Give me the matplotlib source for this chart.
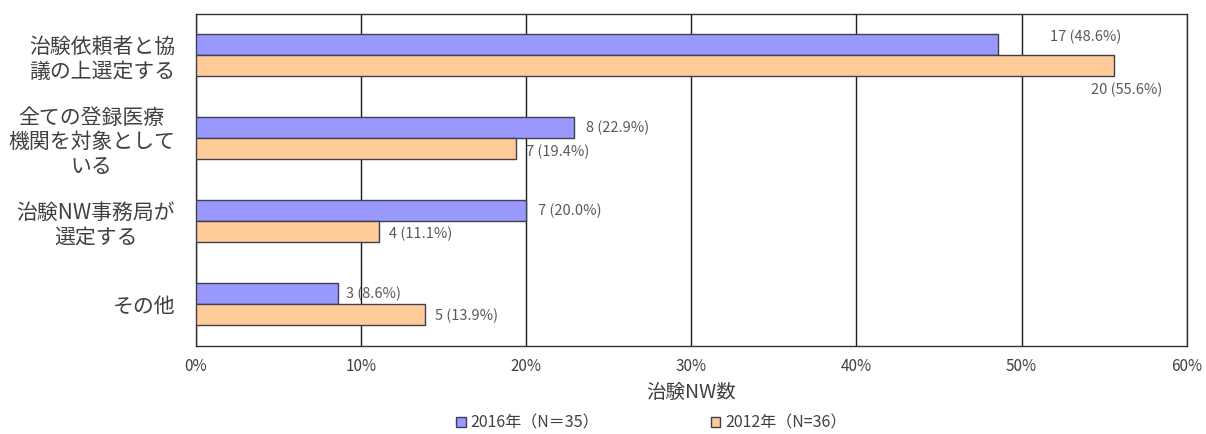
import matplotlib
matplotlib.use("Agg")
import matplotlib.pyplot as plt
import numpy as np
from matplotlib.patches import Patch

plt.rcParams['font.family'] = ['Noto Sans CJK JP', 'DejaVu Sans']

categories = ["治験依頼者と協\n議の上選定する",
              "全ての登録医療\n機関を対象として\nいる",
              "治験NW事務局が\n選定する",
              "その他"]
series_names = ["2016年（N＝35）", "2012年（N=36）"]
counts_2016 = [17, 8, 7, 3]
pct_2016 = [48.6, 22.9, 20.0, 8.6]
counts_2012 = [20, 7, 4, 5]
pct_2012 = [55.6, 19.4, 11.1, 13.9]
xticks = [0, 10, 20, 30, 40, 50, 60]
xlabel = "治験NW数"

blue = "#9999FF"
orange = "#FFCC99"
edge = "#3F3F4F"
label_color = "#595959"

fig = plt.figure(figsize=(12.06, 4.34), dpi=100)
ax = fig.add_axes([0.1625, 0.203, 0.8215, 0.765])

y = np.arange(len(categories))
h = 0.253
ax.barh(y - h / 2, pct_2016, height=h, color=blue, edgecolor=edge, linewidth=1.0, zorder=3)
ax.barh(y + h / 2, pct_2012, height=h, color=orange, edgecolor=edge, linewidth=1.0, zorder=3)

ax.set_xlim(0, 60)
ax.set_ylim(len(categories) - 0.5, -0.5)
ax.set_xticks(xticks)
ax.set_xticklabels([f"{t}%" for t in xticks], fontsize=11, color="#404040")
ax.set_yticks(y)
ax.set_yticklabels(categories, fontsize=15, color="#404040", linespacing=1.15)
for lab in ax.get_yticklabels():
    lab.set_multialignment('center')
ax.tick_params(axis='both', length=0)
ax.tick_params(axis='x', pad=9)
ax.tick_params(axis='y', pad=15)
ax.xaxis.grid(True, color="#1a1a1a", linewidth=1.0, zorder=0)
ax.set_axisbelow(True)
for s in ax.spines.values():
    s.set_color("#333333")
    s.set_linewidth(1.0)
ax.set_xlabel(xlabel, fontsize=14, color="#404040", labelpad=5)

# data labels
offs_2016 = [(52, 8), (12, 0), (12, 0), (8, 0)]
offs_2012 = [(-23, -24), (10, -3), (10, -2), (10, -1)]
for i in range(len(categories)):
    ax.annotate(f"{counts_2016[i]} ({pct_2016[i]:.1f}%)", (pct_2016[i], y[i] - h / 2),
                xytext=offs_2016[i], textcoords='offset pixels',
                ha='left', va='center', fontsize=10.5, color=label_color)
    ax.annotate(f"{counts_2012[i]} ({pct_2012[i]:.1f}%)", (pct_2012[i], y[i] + h / 2),
                xytext=offs_2012[i], textcoords='offset pixels',
                ha='left', va='center', fontsize=10.5, color=label_color)

handles = [Patch(facecolor=blue, edgecolor=edge, linewidth=1.0),
           Patch(facecolor=orange, edgecolor=edge, linewidth=1.0)]
fig.legend(handles, series_names, loc='center', bbox_to_anchor=(0.54, 0.025),
           ncol=2, frameon=False, fontsize=11.5, handlelength=0.6, handleheight=0.6,
           handletextpad=0.3, columnspacing=7.0, labelcolor="#404040")

fig.savefig("out.png", dpi=100)
